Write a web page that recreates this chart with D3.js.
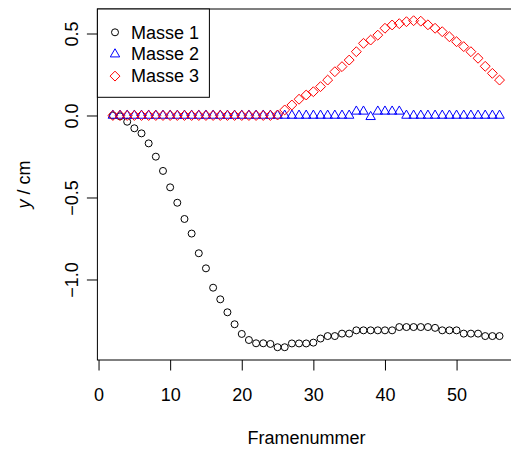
<!DOCTYPE html>
<html>
<head>
<meta charset="utf-8">
<script src="https://cdn.jsdelivr.net/npm/d3@7"></script>
<style>
  html, body { margin: 0; padding: 0; background: #fff; }
  svg { display: block; }
  text { font-family: "Liberation Sans", Arial, Helvetica, sans-serif; }
</style>
</head>
<body>
<svg id="chart" width="511" height="450"></svg>
<script>
// ---- data ----
const frames = d3.range(2, 57); // 2..56
const masse1 = [
  0.000, -0.005, -0.038, -0.078, -0.109, -0.170, -0.251, -0.338, -0.438, -0.532,
  -0.631, -0.720, -0.840, -0.932, -1.050, -1.121, -1.200, -1.273, -1.332, -1.369,
  -1.389, -1.389, -1.393, -1.413, -1.413, -1.390, -1.390, -1.390, -1.385, -1.360,
  -1.345, -1.345, -1.330, -1.330, -1.310, -1.310, -1.310, -1.310, -1.310, -1.310,
  -1.290, -1.290, -1.290, -1.290, -1.290, -1.295, -1.310, -1.310, -1.310, -1.330,
  -1.330, -1.330, -1.345, -1.345, -1.345
];
const masse2 = [
  0, 0, 0, 0, 0, 0, 0, 0, 0, 0,
  0, 0, 0, 0, 0, 0, 0, 0, 0, 0,
  0, 0, 0, 0, 0, 0, 0, 0, 0, 0,
  0, 0, 0, 0, 0.025, 0.025, -0.008, 0.025, 0.025, 0.025,
  0.025, 0, 0, 0, 0, 0, 0, 0, 0, 0,
  0, 0, 0, 0, 0
];
const masse3 = [
  0, 0, 0, 0, 0, 0, 0, 0, 0, 0,
  0, 0, 0, 0, 0, 0, 0, 0, 0, 0,
  0, 0, 0, 0.003, 0.034, 0.064, 0.099, 0.125, 0.145, 0.176,
  0.216, 0.267, 0.298, 0.338, 0.389, 0.440, 0.460, 0.490, 0.532, 0.552,
  0.560, 0.572, 0.578, 0.575, 0.553, 0.532, 0.511, 0.480, 0.450, 0.420,
  0.389, 0.349, 0.300, 0.257, 0.216
];
const xTicks = [0, 10, 20, 30, 40, 50];
const yTicks = [-1.0, -0.5, 0.0, 0.5];
const yTickLabels = ["\u22121.0", "\u22120.5", "0.0", "0.5"];
const seriesNames = ["Masse 1", "Masse 2", "Masse 3"];
const seriesColors = ["#000000", "#0000ff", "#ff0000"];
const xLabel = "Framenummer";

// ---- layout ----
const svg = d3.select("#chart");
const pL = 97.4, pR = 515, pT = 9, pB = 360;
const x = d3.scaleLinear().domain([-0.16, 58.16]).range([pL, pR]);
const y = d3.scaleLinear().domain([-1.4909, 0.6494]).range([pB, pT]);

svg.append("rect").attr("width", 511).attr("height", 450).attr("fill", "#fff");

// symbols
const RAD = 3.5;
function circleSym(g, cx, cy, col) {
  g.append("circle").attr("cx", cx).attr("cy", cy).attr("r", RAD)
    .attr("fill", "none").attr("stroke", col).attr("stroke-width", 1);
}
function triSym(g, cx, cy, col) {
  const r = 1.555 * RAD, xc = r * Math.sqrt(3) / 2, yc = r / 2;
  g.append("path")
    .attr("d", `M${cx - xc},${cy + yc}L${cx + xc},${cy + yc}L${cx},${cy - r}Z`)
    .attr("fill", "none").attr("stroke", col).attr("stroke-width", 1);
}
function diaSym(g, cx, cy, col) {
  const d = Math.SQRT2 * RAD;
  g.append("path")
    .attr("d", `M${cx - d},${cy}L${cx},${cy - d}L${cx + d},${cy}L${cx},${cy + d}Z`)
    .attr("fill", "none").attr("stroke", col).attr("stroke-width", 1);
}
const symFns = [circleSym, triSym, diaSym];
const seriesData = [masse1, masse2, masse3];

const plotG = svg.append("g");
seriesData.forEach((vals, si) => {
  const g = plotG.append("g");
  vals.forEach((v, i) => symFns[si](g, x(frames[i]), y(v), seriesColors[si]));
});

// box
svg.append("rect").attr("x", pL).attr("y", pT)
  .attr("width", pR - pL).attr("height", pB - pT)
  .attr("fill", "none").attr("stroke", "#000").attr("stroke-width", 1);

// x axis
const xAxis = d3.axisBottom(x).tickValues(xTicks).tickSize(10.5).tickPadding(0)
  .tickFormat(d3.format("d"));
const gx = svg.append("g").attr("transform", `translate(0,${pB})`).call(xAxis);
gx.select(".domain").remove();
gx.selectAll(".tick line").attr("stroke", "#000");
gx.selectAll(".tick text").attr("y", 40.7).attr("dy", null)
  .attr("font-size", 18).attr("fill", "#000")
  .attr("font-family", '"Liberation Sans", Arial, sans-serif');

// y axis
const yAxis = d3.axisLeft(y).tickValues(yTicks).tickSize(10.5)
  .tickFormat((d, i) => yTickLabels[i]);
const gy = svg.append("g").attr("transform", `translate(${pL},0)`).call(yAxis);
gy.select(".domain").remove();
gy.selectAll(".tick line").attr("stroke", "#000");
gy.selectAll(".tick text")
  .attr("x", null).attr("dy", null)
  .attr("transform", "translate(-19.5,0) rotate(-90)")
  .attr("text-anchor", "middle")
  .attr("font-size", 18).attr("fill", "#000")
  .attr("font-family", '"Liberation Sans", Arial, sans-serif');

// axis titles
svg.append("text")
  .attr("x", 306.5).attr("y", 444.3).attr("text-anchor", "middle")
  .attr("font-size", 18).attr("fill", "#000").text(xLabel);

const yl = svg.append("text")
  .attr("transform", `translate(29.5,${(pT + pB) / 2}) rotate(-90)`)
  .attr("text-anchor", "middle").attr("font-size", 18).attr("fill", "#000");
yl.append("tspan").attr("font-style", "italic").text("y");
yl.append("tspan").text(" / cm");

// legend
const lg = svg.append("g");
lg.append("rect").attr("x", pL).attr("y", pT).attr("width", 112).attr("height", 88.3)
  .attr("fill", "#fff").attr("stroke", "#000").attr("stroke-width", 1);
seriesNames.forEach((name, i) => {
  const cy = 32.3 + i * 21.9;
  symFns[i](lg, 115, cy, seriesColors[i]);
  lg.append("text").attr("x", 131).attr("y", cy + 6.2)
    .attr("font-size", 18).attr("fill", "#000").text(name);
});
</script>
</body>
</html>
